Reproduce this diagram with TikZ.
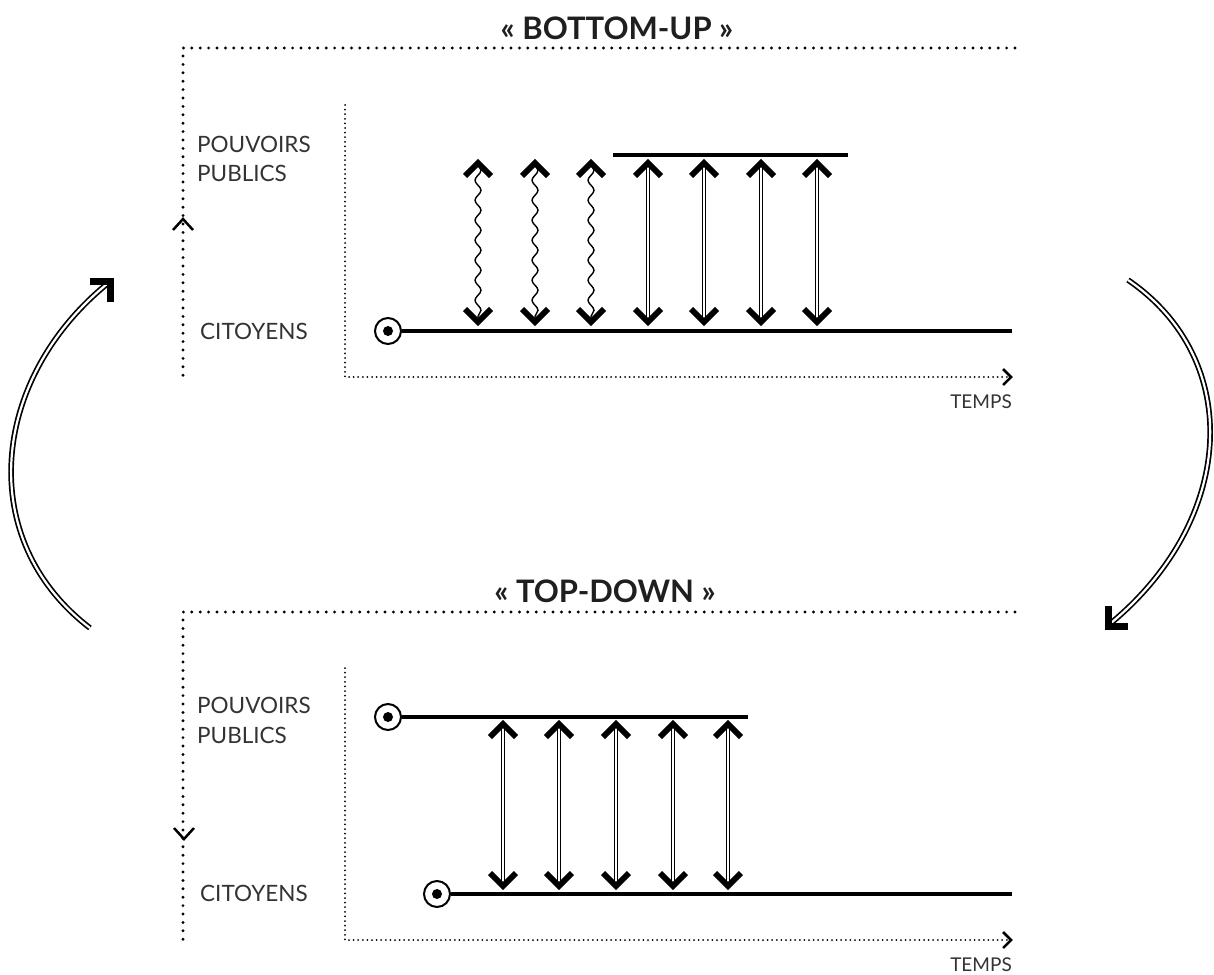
\documentclass[tikz,border=0pt]{standalone}
\usepackage{fontspec}
\setmainfont{Lato}
\usetikzlibrary{decorations.pathmorphing}
\definecolor{txt}{HTML}{333333}
\newcommand\updownarr[3]{%
  \draw[dbl] (#1,#2+3) -- (#1,#3-3);
  \draw[chev] (#1-13,#2+14) -- (#1,#2+1) -- (#1+13,#2+14);
  \draw[chev] (#1-13,#3-14) -- (#1,#3-1) -- (#1+13,#3-14);}
\newcommand\wavearr[3]{%
  \draw[wave] (#1,#2+2) -- (#1,#3-2);
  \draw[chev] (#1-13,#2+14) -- (#1,#2+1) -- (#1+13,#2+14);
  \draw[chev] (#1-13,#3-14) -- (#1,#3-1) -- (#1+13,#3-14);}
\begin{document}
\begin{tikzpicture}[x=1pt,y=-1pt,
 frame/.style={line width=3.2pt, dash pattern=on 0pt off 8.4pt, line cap=round},
 axis/.style={line width=2pt, dash pattern=on 0pt off 4.6pt, line cap=round},
 axchev/.style={line width=2.5pt},
 timeline/.style={line width=4pt},
 chev/.style={line width=5.8pt, miter limit=10},
 dbl/.style={double, double distance=1.6pt, line width=1.4pt},
 wave/.style={line width=1.4pt, decorate, decoration={snake, amplitude=3pt, segment length=20pt}},
 bigdbl/.style={double, double distance=2.2pt, line width=1.7pt},
 bighead/.style={line width=7pt, miter limit=10},
 lab/.style={font=\fontsize{22.5}{24}\selectfont, text=txt, anchor=west, inner sep=0pt},
 tlab/.style={font=\fontsize{19}{20}\selectfont, text=txt, anchor=east, inner sep=0pt},
 title/.style={font=\bfseries\fontsize{31}{34}\selectfont, text=black!88, inner sep=0pt},
 origin/.style={circle, draw, line width=2pt, minimum size=26pt, inner sep=0pt, fill=white},
 dot/.style={fill, circle, minimum size=10pt, inner sep=0pt}]

\useasboundingbox (0,0) rectangle (1214,974);

% ---------- top panel : BOTTOM-UP ----------
\node[title] (t1) at (617,28) {«~BOTTOM-UP~»};
\coordinate (f1a) at (183,48);
\coordinate (f1b) at (1015,48);
\coordinate (f1c) at (183,378);
\draw[frame] (f1b) -- (f1a) -- (f1c);
\draw[axchev] (173,230) -- (183,219) -- (193,230);

\coordinate (a1top) at (345,105);
\coordinate (a1o) at (345,377);
\coordinate (a1r) at (1011,377);
\draw[axis] (a1top) -- (a1o) -- (a1r);
\draw[axchev] (1003,369) -- (1011,377) -- (1003,385);
\node[tlab] (temps1) at (1012,402) {TEMPS};

\node[lab] (pp1a) at (197,144) {POUVOIRS};
\node[lab] (pp1b) at (197,173) {PUBLICS};
\node[lab] (cit1) at (200,331) {CITOYENS};

\node[origin] (o1) at (388,331) {};
\node[dot] (d1) at (o1) {};
\coordinate (c1e) at (1012,331);
\draw[timeline] (o1) -- (c1e);
\coordinate (p1s) at (613,155);
\coordinate (p1e) at (848,155);
\draw[timeline] (p1s) -- (p1e);

\wavearr{478}{162}{323}
\wavearr{535}{162}{323}
\wavearr{591}{162}{323}
\updownarr{648}{162}{323}
\updownarr{704}{162}{323}
\updownarr{761}{162}{323}
\updownarr{817}{162}{323}

% ---------- bottom panel : TOP-DOWN ----------
\node[title] (t2) at (605,591) {«~TOP-DOWN~»};
\coordinate (f2a) at (183,612);
\coordinate (f2b) at (1015,612);
\coordinate (f2c) at (183,940);
\draw[frame] (f2b) -- (f2a) -- (f2c);
\draw[axchev] (174,828) -- (184,839) -- (194,828);

\coordinate (a2top) at (345,668);
\coordinate (a2o) at (345,940);
\coordinate (a2r) at (1011,940);
\draw[axis] (a2top) -- (a2o) -- (a2r);
\draw[axchev] (1003,932) -- (1011,940) -- (1003,948);
\node[tlab] (temps2) at (1012,965) {TEMPS};

\node[lab] (pp2a) at (197,705) {POUVOIRS};
\node[lab] (pp2b) at (197,735) {PUBLICS};
\node[lab] (cit2) at (200,893) {CITOYENS};

\node[origin] (o2) at (388,717) {};
\node[dot] (d2) at (o2) {};
\coordinate (p2e) at (748,717);
\draw[timeline] (o2) -- (p2e);
\node[origin] (o3) at (437,894) {};
\node[dot] (d3) at (o3) {};
\coordinate (c2e) at (1012,894);
\draw[timeline] (o3) -- (c2e);

\updownarr{503}{723}{887}
\updownarr{559}{723}{887}
\updownarr{616}{723}{887}
\updownarr{673}{723}{887}
\updownarr{728}{723}{887}

% ---------- cycle arrows ----------
\coordinate (l0) at (90,628);
\coordinate (l1) at (107,284);
\draw[bigdbl] (l0) .. controls (-25,540) and (-10,380) .. (l1);
\draw[bighead] (90,281) -- (110,281) -- (110,302);

\coordinate (r0) at (1128,280);
\coordinate (r1) at (1111,623);
\draw[bigdbl] (r0) .. controls (1245,360) and (1235,520) .. (r1);
\draw[bighead] (1108,606) -- (1108,626) -- (1128,626);
\end{tikzpicture}
\end{document}
